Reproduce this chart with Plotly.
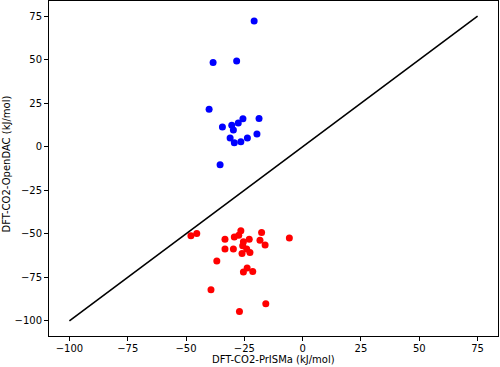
import plotly.graph_objects as go

blue_x = [-20.8, -38.4, -28.3, -40.1, -34.4, -30.4, -29.7, -27.6, -25.6, -18.7,
          -31.1, -29.3, -26.5, -23.7, -19.6, -35.4]
blue_y = [72.2, 48.4, 49.3, 21.6, 11.3, 12.4, 9.6, 13.6, 16.1, 16.3,
          5.0, 2.3, 2.9, 5.0, 7.3, -10.3]

red_x = [-47.9, -45.4, -33.3, -29.3, -26.5, -27.4, -25.4, -22.9, -17.6, -18.3,
         -16.1, -5.7, -33.3, -29.7, -25.7, -24.0, -26.0, -22.6, -36.8, -25.4,
         -23.8, -21.4, -39.3, -15.8, -27.1]
red_y = [-51.2, -49.9, -53.1, -51.8, -48.3, -50.8, -54.6, -53.1, -49.3, -53.7,
         -56.4, -52.5, -58.8, -58.8, -56.9, -58.8, -61.4, -60.8, -65.7, -72.0,
         -69.7, -71.7, -82.2, -90.2, -94.6]

diag = [-100, 75]
ticks = [-100, -75, -50, -25, 0, 25, 50, 75]
xlabel = "DFT-CO2-PrISMa (kJ/mol)"
ylabel = "DFT-CO2-OpenDAC (kJ/mol)"

fig = go.Figure()
fig.add_trace(go.Scatter(x=blue_x, y=blue_y, mode="markers", hoverinfo="skip",
                         marker=dict(color="blue", size=7, line=dict(width=0))))
fig.add_trace(go.Scatter(x=red_x, y=red_y, mode="markers", hoverinfo="skip",
                         marker=dict(color="red", size=7, line=dict(width=0))))
fig.add_trace(go.Scatter(x=diag, y=diag, mode="lines", hoverinfo="skip",
                         line=dict(color="black", width=1.6)))

ticktext = [str(t).replace("-", "\u2212") for t in ticks]
axis_common = dict(
    range=[-108.75, 83.75], showgrid=False, zeroline=False,
    showline=True, mirror=True, linecolor="black", linewidth=1,
    ticks="outside", ticklen=4, tickwidth=1, tickcolor="black",
    tickvals=ticks, ticktext=ticktext,
    tickfont=dict(family="DejaVu Sans", size=10, color="black"),
)
fig.update_layout(
    width=500, height=367,
    margin=dict(l=49, r=2, t=1, b=31),
    plot_bgcolor="white", paper_bgcolor="white",
    showlegend=False, hovermode=False,
    font=dict(family="DejaVu Sans", size=10, color="black"),
    xaxis=dict(**axis_common, ticklabelstandoff=-1),
    yaxis=dict(**axis_common),
    annotations=[
        dict(text=xlabel, xref="paper", yref="paper", x=0.5, y=-0.0896,
             xanchor="center", yanchor="bottom", showarrow=False, borderpad=0,
             font=dict(family="DejaVu Sans", size=10, color="black")),
        dict(text=ylabel, xref="paper", yref="paper", x=-0.0958, y=0.515,
             xanchor="center", yanchor="middle", textangle=-90, showarrow=False,
             borderpad=0,
             font=dict(family="DejaVu Sans", size=10, color="black")),
    ],
)
fig.write_html("out.html", config={"displayModeBar": False, "staticPlot": True},
               post_script="document.body.style.margin='0';document.body.style.overflow='hidden';")
